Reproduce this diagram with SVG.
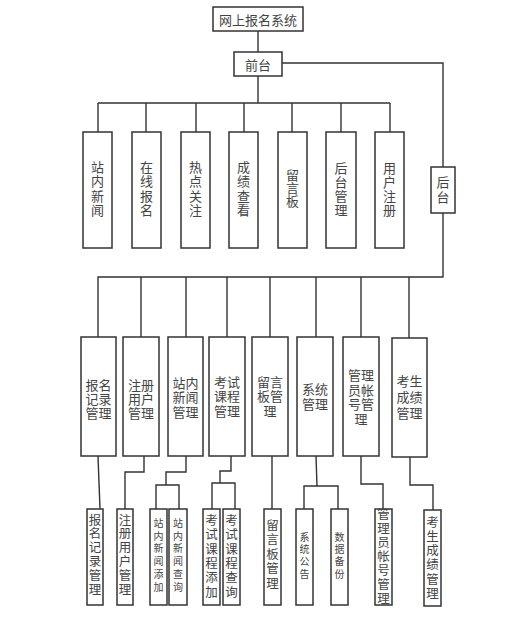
<svg xmlns="http://www.w3.org/2000/svg" width="530" height="631" viewBox="0 0 530 631">
<style>
rect{fill:#fff;stroke:#333;stroke-width:1.5}
.c path{fill:none;stroke:#333;stroke-width:1.4}
text{font-family:"Noto Sans CJK SC","Noto Sans CJK JP",sans-serif;fill:#444;text-anchor:middle}
.h{dominant-baseline:central}
.v{writing-mode:vertical-rl}
.t{font-size:13px}
.m{font-size:13px}
.b{font-size:12.5px}
.s{font-size:10px}
</style>
<rect x="0" y="0" width="530" height="631" style="fill:#fff;stroke:none"/>
<g class="c" id="connectors">
<path d="M258 31V52"/>
<path d="M282 63H443V167M443 213V277H98V337"/>
<path d="M141 277V337M186 277V337M227 277V337M270 277V337M316 277V337M361 277V337M409 277V338"/>
<path d="M258 76V103M98 103H390M98 103V132M146 103V132M196 103V132M244 103V132M292 103V132M341 103V132M390 103V132"/>
<path d="M98 456L100 509"/>
<path d="M144 456V472H125V509"/>
<path d="M186 456V472H166V485M156 509V485H179V509"/>
<path d="M231 456V471H220V483M212 509V483H235V509"/>
<path d="M272 456V509"/>
<path d="M316 456L317 486M304 509V486H338V509"/>
<path d="M361 456V484H383V509"/>
<path d="M410 457V485H433V510"/>
</g>
<g id="root"><rect x="213" y="7" width="90" height="24"/><text class="t h" x="258" y="19">网上报名系统</text></g>
<g id="qiantai"><rect x="234" y="52" width="48" height="24"/><text class="t h" x="258" y="64">前台</text></g>
<g id="houtai"><rect x="431" y="167" width="24" height="46"/><text class="t v" x="443" y="190.5" letter-spacing="2">后台</text></g>

<g id="n1"><rect x="83" y="132" width="29" height="116"/><text class="t v" x="97.5" y="189.5" letter-spacing="1.5">站内新闻</text></g>
<g id="n2"><rect x="132" y="132" width="29" height="116"/><text class="t v" x="146.5" y="189.5" letter-spacing="1.5">在线报名</text></g>
<g id="n3"><rect x="181" y="132" width="29" height="116"/><text class="t v" x="195.5" y="189.5" letter-spacing="1.5">热点关注</text></g>
<g id="n4"><rect x="229" y="132" width="29" height="116"/><text class="t v" x="243.5" y="189.5" letter-spacing="1.5">成绩查看</text></g>
<g id="n5"><rect x="278" y="132" width="29" height="116"/><text class="t v" x="292.5" y="188">留言板</text></g>
<g id="n6"><rect x="326" y="132" width="30" height="116"/><text class="t v" x="341" y="189.5" letter-spacing="1">后台管理</text></g>
<g id="n7"><rect x="375" y="132" width="29" height="116"/><text class="t v" x="389.5" y="189.5" letter-spacing="1">用户注册</text></g>

<g id="m1"><rect x="81" y="337" width="35" height="119"/><text class="m h"><tspan x="98.5" y="384">报名</tspan><tspan x="98.5" y="398">记录</tspan><tspan x="98.5" y="412">管理</tspan></text></g>
<g id="m2"><rect x="123" y="337" width="36" height="119"/><text class="m h"><tspan x="141" y="384">注册</tspan><tspan x="141" y="398">用户</tspan><tspan x="141" y="412">管理</tspan></text></g>
<g id="m3"><rect x="168" y="337" width="35" height="119"/><text class="m h"><tspan x="185.5" y="382">站内</tspan><tspan x="185.5" y="396">新闻</tspan><tspan x="185.5" y="411">管理</tspan></text></g>
<g id="m4"><rect x="209" y="337" width="36" height="119"/><text class="m h"><tspan x="227" y="381">考试</tspan><tspan x="227" y="395">课程</tspan><tspan x="227" y="410">管理</tspan></text></g>
<g id="m5"><rect x="252" y="337" width="36" height="119"/><text class="m h"><tspan x="270" y="381">留言</tspan><tspan x="270" y="395">板管</tspan><tspan x="270" y="410">理</tspan></text></g>
<g id="m6"><rect x="297" y="337" width="36" height="119"/><text class="m h"><tspan x="315" y="388">系统</tspan><tspan x="315" y="403">管理</tspan></text></g>
<g id="m7"><rect x="343" y="337" width="36" height="119"/><text class="m h"><tspan x="361" y="374">管理</tspan><tspan x="361" y="388.5">员帐</tspan><tspan x="361" y="403">号管</tspan><tspan x="361" y="417.5">理</tspan></text></g>
<g id="m8"><rect x="392" y="338" width="35" height="119"/><text class="m h"><tspan x="409.5" y="380">考生</tspan><tspan x="409.5" y="396">成绩</tspan><tspan x="409.5" y="412">管理</tspan></text></g>

<g id="b1"><rect x="87" y="509" width="16" height="96"/><text class="b v" x="95" y="555" letter-spacing="1.3">报名记录管理</text></g>
<g id="b2"><rect x="117" y="509" width="16" height="96"/><text class="b v" x="125" y="555" letter-spacing="1.3">注册用户管理</text></g>
<g id="b3"><rect x="150" y="509" width="17" height="96"/><text class="s v" x="158.5" y="556.5" letter-spacing="2.8">站内新闻添加</text></g>
<g id="b4"><rect x="169" y="509" width="18" height="96"/><text class="s v" x="178" y="556.5" letter-spacing="2.8">站内新闻查询</text></g>
<g id="b5"><rect x="203" y="509" width="17" height="96"/><text class="b v" x="211.5" y="557" letter-spacing="1.9">考试课程添加</text></g>
<g id="b6"><rect x="223" y="509" width="17" height="96"/><text class="b v" x="231.5" y="557" letter-spacing="1.9">考试课程查询</text></g>
<g id="b7"><rect x="264" y="509" width="17" height="96"/><text class="b v" x="272.5" y="555" letter-spacing="2">留言板管理</text></g>
<g id="b8"><rect x="296" y="509" width="17" height="96"/><text class="s v" x="304.5" y="556.5" letter-spacing="2.3">系统公告</text></g>
<g id="b9"><rect x="331" y="509" width="17" height="96"/><text class="s v" x="339.5" y="556.5" letter-spacing="2.3">数据备份</text></g>
<g id="b10"><rect x="375" y="509" width="17" height="96"/><text class="b v" x="383.5" y="556.5" letter-spacing="1.5">管理员帐号管理</text></g>
<g id="b11"><rect x="424" y="510" width="17" height="96"/><text class="b v" x="432.5" y="558.5" letter-spacing="1.7">考生成绩管理</text></g>
</svg>
